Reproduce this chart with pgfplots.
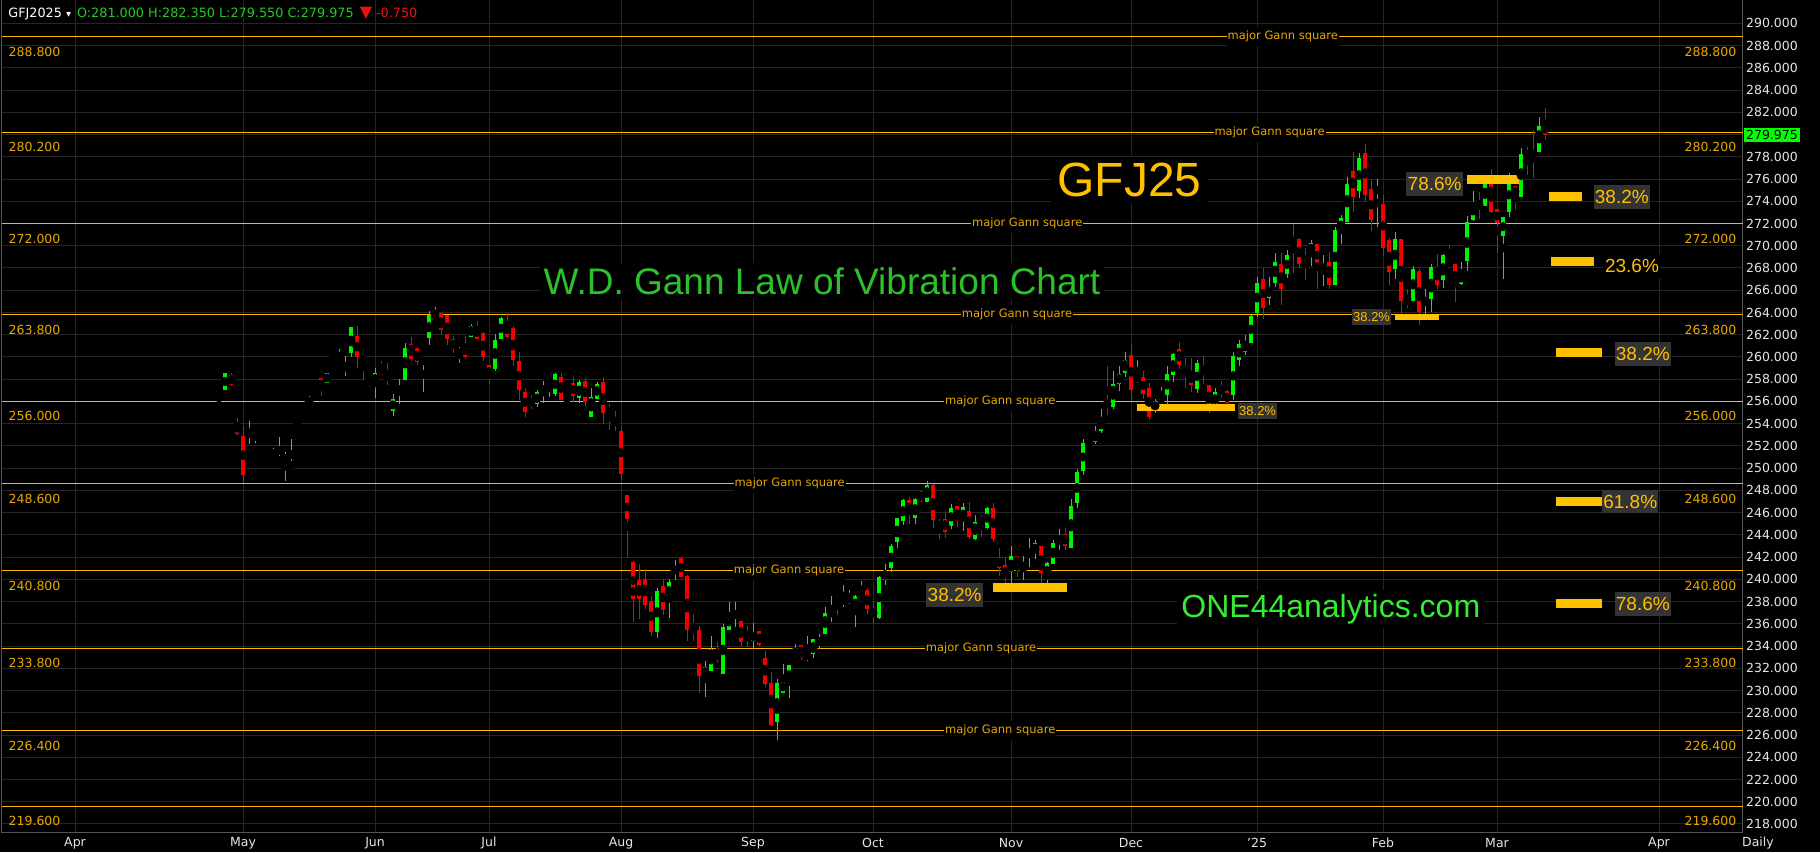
\documentclass[border=0pt]{standalone}
\usepackage{pgfplots}
\pgfplotsset{compat=1.18}
\usepackage{pgfplotstable}
\usepackage{fontspec}
\setmainfont{DejaVu Sans}
\newfontfamily\arial{Liberation Sans}
\newcommand{\fs}[1]{\fontsize{#1}{#1}\selectfont}
\pgfkeys{/pgf/number format/assume math mode=true}

\definecolor{gridgray}{HTML}{262626}
\definecolor{framegray}{HTML}{555555}
\definecolor{gannline}{HTML}{FFBA00}
\definecolor{ganntext}{HTML}{E8A800}
\definecolor{gold}{HTML}{FFC000}
\definecolor{boxgray}{HTML}{333333}
\definecolor{candleup}{HTML}{00F500}
\definecolor{candledn}{HTML}{F50000}
\definecolor{titlegreen}{HTML}{2CC02C}
\definecolor{sitegreen}{HTML}{33EE33}
\definecolor{ticktext}{HTML}{E6E6E6}
\definecolor{hdrgreen}{HTML}{22CC22}
\definecolor{hdrred}{HTML}{EE1111}
\definecolor{pricebox}{HTML}{00FF00}

\tikzset{
  gannval/.style={font=\fs{6.25}, text=ganntext, inner sep=0pt},
  gannlbl/.style={font=\fs{5.75}, text=ganntext, fill=black, inner xsep=0.5pt, inner ysep=2pt},
  pct/.style={font=\arial\fs{9.5}, text=gold, fill=boxgray, inner xsep=0.6pt, inner ysep=2.6pt},
  pctblk/.style={font=\arial\fs{9.5}, text=gold, fill=black, inner xsep=0.6pt, inner ysep=2.6pt},
  pcts/.style={font=\arial\fs{6.5}, text=gold, fill=boxgray, inner xsep=0.4pt, inner ysep=1.8pt},
}
\pgfplotsset{
  fibbar/.style={draw=gold, line width=4.5pt, forget plot},
  fibbarthin/.style={draw=gold, line width=3.3pt, forget plot},
}

% daily bars of GFJ25, one row per trading session (k = bar index)
\pgfplotstableread{
k o h l c
0 255.65 255.65 255.65 255.65
1 257.03 258.56 257.03 258.56
5 252.98 254.24 252.17 253.16
6 252.89 253.43 252.26 253.25
7 251.60 251.60 251.60 251.60
8 253.22 253.73 253.22 253.22
9 250.82 251.81 250.82 251.36
10 250.70 252.80 250.40 250.70
11 250.88 251.45 248.87 250.88
12 250.10 252.62 249.83 250.40
15 255.50 256.49 255.50 256.04
18 257.66 258.56 257.66 258.56
19 260.00 260.53 260.00 260.35
20 259.55 260.71 259.46 259.55
21 258.83 260.08 258.29 259.19
22 260.35 262.69 260.00 262.69
26 257.57 259.00 256.31 258.56
29 255.14 256.67 254.69 256.22
30 256.76 258.02 255.77 257.39
31 257.93 261.25 257.93 260.80
34 259.37 260.00 256.85 259.91
35 261.70 264.13 261.07 263.77
36 263.32 264.49 263.23 263.77
40 260.17 260.89 259.46 260.62
42 261.79 262.96 261.79 262.78
46 258.92 262.06 258.74 261.52
47 261.61 263.59 261.61 263.50
53 255.77 257.03 255.50 256.85
54 256.76 257.84 255.86 257.39
55 257.75 258.02 256.40 258.02
56 256.67 258.56 256.49 258.47
60 256.31 257.93 255.86 257.75
62 254.60 257.21 254.60 256.40
63 256.22 257.75 256.22 257.57
73 235.26 239.22 234.72 238.95
75 238.23 240.03 236.52 239.76
76 240.48 241.74 239.94 241.20
81 231.30 232.65 229.42 232.11
82 231.75 234.90 231.75 233.73
84 231.48 235.98 231.48 235.71
85 235.44 237.96 235.44 236.88
86 236.61 237.96 235.71 237.06
89 234.45 236.07 233.73 235.26
93 227.17 231.03 225.55 230.67
94 229.78 232.38 229.78 230.85
95 230.58 232.29 229.33 232.29
96 232.74 234.18 232.74 233.46
98 233.01 234.90 232.65 233.28
99 233.28 234.63 232.92 234.63
100 234.09 235.08 233.73 234.72
101 235.08 237.51 235.08 236.97
102 236.79 238.50 236.16 237.15
104 237.96 239.49 237.51 238.23
105 238.14 239.04 237.78 238.32
106 237.24 238.59 235.71 238.50
107 238.32 239.85 238.32 238.50
110 236.52 240.30 236.40 240.24
111 239.94 241.38 239.49 240.75
112 241.02 243.18 240.66 243.00
113 243.36 245.51 242.82 245.51
114 245.25 247.22 244.88 247.13
116 245.51 247.31 244.97 247.22
117 247.40 247.94 246.95 247.58
118 246.95 248.84 246.95 248.48
122 244.79 246.77 244.52 246.41
124 245.24 246.86 244.34 246.50
126 243.63 245.78 243.50 245.15
128 244.61 246.50 244.52 246.41
132 240.66 242.99 239.16 242.10
134 241.02 242.10 239.94 241.38
135 242.01 243.72 241.11 242.55
136 242.37 243.54 241.83 243.27
138 240.12 241.56 239.16 241.47
139 241.38 243.54 241.38 243.27
140 243.18 244.52 242.64 243.81
142 242.82 247.22 242.82 246.59
143 246.86 249.92 246.41 249.65
144 249.74 252.62 249.38 252.26
145 252.17 252.80 252.17 252.44
146 252.35 253.79 252.17 253.25
147 253.34 255.32 253.16 254.42
149 255.52 258.73 255.30 257.56
150 257.56 259.18 256.93 258.46
151 258.55 260.44 258.20 259.72
153 258.04 259.72 257.70 258.19
156 255.55 256.21 255.00 255.67
157 256.12 257.29 255.90 256.30
158 256.57 259.18 255.76 258.46
159 258.37 260.35 257.74 260.26
163 257.11 259.72 256.75 259.45
166 255.49 257.20 255.30 256.84
169 256.57 260.44 256.12 260.08
170 259.72 261.52 259.18 261.16
171 260.44 261.97 260.20 261.34
172 261.25 263.76 261.25 263.67
173 263.94 267.18 263.60 266.64
175 265.29 267.18 264.66 266.28
176 266.64 269.34 266.30 268.53
178 267.45 269.61 267.09 269.16
182 269.34 270.51 268.17 270.24
184 267.90 269.16 266.40 268.17
186 266.46 271.68 266.46 271.41
187 271.23 272.76 270.15 272.49
188 272.13 276.18 272.13 275.55
190 274.92 278.33 274.29 277.88
193 274.83 276.00 271.68 275.19
196 267.90 271.23 267.00 270.60
199 265.02 268.17 265.02 267.90
201 264.76 266.10 263.86 265.29
202 265.20 268.35 264.04 268.08
204 266.91 269.25 266.19 269.16
207 266.55 268.53 266.46 267.63
208 268.62 272.67 267.72 272.13
209 272.31 274.92 272.22 273.93
211 273.57 276.09 273.57 275.64
214 270.87 272.58 267.00 272.58
215 273.03 276.54 272.58 276.18
217 274.38 278.78 274.38 278.24
220 278.42 281.57 278.42 280.76
}\upbars

\pgfplotstableread{
k o h l c
2 258.38 258.56 257.39 257.48
3 254.06 254.51 252.98 253.10
4 252.89 253.82 248.63 249.38
13 254.24 254.42 254.06 254.06
14 254.87 254.96 254.15 254.42
16 257.39 257.75 257.03 257.03
17 258.10 258.10 256.49 257.03
23 261.88 262.78 259.00 260.00
24 260.00 260.26 257.93 259.55
25 258.20 258.20 257.30 257.93
27 259.19 259.63 258.38 258.38
28 258.56 259.46 257.48 257.84
32 261.16 261.79 259.64 259.82
33 260.80 260.80 259.28 259.55
37 263.95 263.95 261.97 262.42
38 263.77 263.77 261.07 261.61
39 261.61 261.88 260.35 260.71
41 261.16 261.88 259.82 260.00
43 262.78 263.23 261.61 261.61
44 262.15 262.24 259.64 260.00
45 259.28 259.28 257.57 258.10
48 263.14 263.95 261.70 261.79
49 262.60 262.78 259.19 259.73
50 259.64 260.44 256.13 257.03
51 256.85 257.21 254.60 255.05
52 256.22 256.58 255.32 255.68
57 258.20 258.56 256.13 256.13
58 255.86 255.86 255.14 255.59
59 257.66 258.20 255.95 256.49
61 257.84 258.10 255.50 255.95
64 257.75 258.20 253.97 254.96
65 255.32 255.77 253.43 254.96
66 254.33 255.14 253.34 253.97
67 253.34 253.79 248.93 249.47
68 247.58 247.58 241.92 245.43
69 241.56 241.65 236.16 238.23
70 239.94 241.38 236.43 238.23
71 240.03 240.93 237.33 237.69
72 238.05 238.50 234.90 235.26
74 239.40 240.03 236.79 237.24
77 241.92 241.92 240.21 240.21
78 240.30 240.39 234.45 235.44
79 235.62 236.88 234.45 235.26
80 235.44 235.80 229.77 231.30
83 233.55 234.36 232.47 232.74
87 236.25 236.25 234.00 234.36
88 235.08 235.80 233.91 234.81
90 235.35 235.35 234.00 234.09
91 232.92 233.55 230.31 230.58
92 230.67 231.66 226.81 226.90
97 234.09 234.09 232.74 233.01
103 238.23 238.50 236.79 237.87
108 239.04 239.22 236.88 237.33
109 237.33 238.05 235.98 236.61
115 247.13 247.40 244.97 245.87
119 248.48 248.60 244.61 245.33
120 244.97 245.42 243.63 244.70
121 245.42 246.14 243.72 244.25
123 246.59 246.59 244.70 245.24
125 246.14 246.95 243.60 243.81
127 245.51 245.78 243.81 244.97
129 246.41 246.86 243.36 243.63
130 242.01 242.82 240.30 241.02
131 241.29 242.01 238.95 240.12
133 242.10 242.10 240.21 241.20
137 242.99 242.99 239.40 240.57
141 244.07 244.61 242.64 242.99
148 256.07 259.18 254.78 255.50
152 260.17 261.25 256.15 257.05
154 258.19 258.73 256.24 256.69
155 257.20 257.65 254.35 254.62
160 260.71 261.33 258.91 259.27
161 259.09 259.90 257.20 258.55
162 258.64 259.90 256.84 257.47
164 259.09 260.08 257.56 258.37
165 257.47 257.47 254.98 255.49
167 257.29 257.83 256.30 256.75
168 256.93 257.00 255.70 255.85
174 267.00 267.99 263.43 264.39
177 268.35 269.34 264.66 266.10
179 270.69 271.95 267.54 270.15
180 270.60 270.70 267.99 268.35
181 268.98 269.79 266.91 268.53
183 270.15 270.15 266.10 268.17
185 268.53 269.43 266.10 266.46
189 276.72 278.42 273.03 274.38
191 278.33 279.14 274.02 274.56
192 275.10 276.00 271.32 272.31
194 273.75 274.56 269.07 269.79
195 270.51 270.69 266.46 267.63
197 270.60 270.60 263.68 265.02
198 265.20 266.10 264.40 264.85
200 267.72 267.99 262.87 264.04
203 268.08 269.25 266.10 266.46
205 269.07 270.06 268.62 268.62
206 268.35 268.35 264.94 266.37
210 273.93 274.83 272.40 273.48
212 275.64 276.90 272.94 273.03
213 273.30 273.30 269.34 272.04
216 275.37 275.37 273.21 274.38
218 278.60 278.87 276.36 277.88
219 278.06 280.40 276.09 277.70
221 281.00 282.35 279.55 279.975
}\downbars

\begin{document}
\begin{tikzpicture}
\fill[black] (0pt,0pt) rectangle (910pt,426pt);
\begin{axis}[
  at={(1pt,10pt)}, anchor=south west,
  width=870.35pt, height=416pt, scale only axis,
  xmin=-36.17, xmax=253.95, ymin=217.28, ymax=292.1,
  clip=false,
  axis line style={draw=framegray, line width=0.5pt},
  /pgf/number format/assume math mode=true,
  xtick={-24,4,26,45,67,89,109,132,152,173,194,213,240},
  xticklabels={Apr,May,Jun,Jul,Aug,Sep,Oct,Nov,Dec,{'25},Feb,Mar,Apr},
  ytick={218,220,...,290},
  yticklabel pos=right,
  scaled y ticks=false,
  grid=major,
  major grid style={draw=gridgray, line width=0.5pt},
  tick style={draw=none},
  xticklabel style={anchor=center, yshift=-5.5pt, inner sep=0pt, font=\fs{6.25}, text=ticktext},
  yticklabel style={anchor=west, xshift=1.5pt, inner sep=0pt, font=\fs{6.25}, text=ticktext,
    /pgf/number format/fixed, /pgf/number format/fixed zerofill, /pgf/number format/precision=3},
]

% major Gann square levels with their price tags at both ends
\pgfplotsinvokeforeach{288.8,280.2,272,263.8,256,248.6,240.8,233.8,226.4,219.6}{
  \addplot[draw=gannline, line width=0.5pt, forget plot] coordinates {(-36.17,#1) (253.95,#1)};
  \node[gannval, anchor=west, xshift=3.15pt, yshift=-7.5pt] at (axis cs:-36.17,#1)
    {\pgfmathprintnumber[fixed,fixed zerofill,precision=3]{#1}};
  \node[gannval, anchor=east, xshift=-3pt, yshift=-7.5pt] at (axis cs:253.95,#1)
    {\pgfmathprintnumber[fixed,fixed zerofill,precision=3]{#1}};
}
\node[gannlbl] at (axis cs:177.3,288.8) {major Gann square};
\node[gannlbl] at (axis cs:175.1,280.2) {major Gann square};
\node[gannlbl] at (axis cs:134.7,272) {major Gann square};
\node[gannlbl] at (axis cs:133,263.8) {major Gann square};
\node[gannlbl] at (axis cs:130.2,256) {major Gann square};
\node[gannlbl] at (axis cs:95.1,248.6) {major Gann square};
\node[gannlbl] at (axis cs:95,240.8) {major Gann square};
\node[gannlbl] at (axis cs:127,233.8) {major Gann square};
\node[gannlbl] at (axis cs:130.2,226.4) {major Gann square};

% titles
\node[font=\arial\fs{18.5}, text=titlegreen, fill=black, inner sep=2pt] at (axis cs:100.5,266.83) {W.D. Gann Law of Vibration Chart};
\node[font=\arial\fs{24}, text=gold, fill=black, inner sep=3pt] at (axis cs:151.75,275.9) {GFJ25};
\node[font=\arial\fs{16}, text=sitegreen, fill=black, inner sep=2pt] at (axis cs:185.3,237.3) {ONE44analytics.com};

% candle wicks
\addplot[only marks, mark=none, forget plot,
  error bars/.cd, y dir=both, y explicit, error mark=none,
  error bar style={draw=candleup, line width=0.5pt}]
  table[x=k, y expr={(\thisrow{h}+\thisrow{l})/2}, y error expr={(\thisrow{h}-\thisrow{l})/2}] {\upbars};
\addplot[only marks, mark=none, forget plot,
  error bars/.cd, y dir=both, y explicit, error mark=none,
  error bar style={draw=candledn, line width=0.5pt}]
  table[x=k, y expr={(\thisrow{h}+\thisrow{l})/2}, y error expr={(\thisrow{h}-\thisrow{l})/2}] {\downbars};
% candle bodies
\addplot[only marks, mark=none, forget plot,
  error bars/.cd, y dir=both, y explicit, error mark=none,
  error bar style={draw=candleup, line width=2pt}]
  table[x=k, y expr={(\thisrow{o}+\thisrow{c})/2}, y error expr={max(abs(\thisrow{c}-\thisrow{o})/2,0.05)}] {\upbars};
\addplot[only marks, mark=none, forget plot,
  error bars/.cd, y dir=both, y explicit, error mark=none,
  error bar style={draw=candledn, line width=2pt}]
  table[x=k, y expr={(\thisrow{o}+\thisrow{c})/2}, y error expr={max(abs(\thisrow{c}-\thisrow{o})/2,0.05)}] {\downbars};

% Fibonacci retracement markers
\addplot[fibbar] coordinates {(208,276.0) (216.67,276.0)};
\addplot[fibbarthin] coordinates {(196,263.6) (203.3,263.6)};
\addplot[fibbarthin] coordinates {(153,255.45) (169.3,255.45)};
\addplot[fibbar] coordinates {(129,239.3) (141.3,239.3)};
\addplot[fibbar] coordinates {(221.7,274.4) (227.2,274.4)};
\addplot[fibbar] coordinates {(222,268.6) (229.2,268.6)};
\addplot[fibbar] coordinates {(222.8,260.4) (230.5,260.4)};
\addplot[fibbar] coordinates {(222.8,247.0) (230.8,247.0)};
\addplot[fibbar] coordinates {(222.8,237.8) (230.5,237.8)};

\node[pct] at (axis cs:202.6,275.55) {78.6\%};
\node[pcts] at (axis cs:192.1,263.6) {38.2\%};
\node[pcts] at (axis cs:173.1,255.13) {38.2\%};
\node[pct] at (axis cs:122.6,238.6) {38.2\%};
\node[pct] at (axis cs:233.8,274.4) {38.2\%};
\node[pctblk] at (axis cs:235.5,268.2) {23.6\%};
\node[pct] at (axis cs:237.3,260.3) {38.2\%};
\node[pct] at (axis cs:235.2,247.0) {61.8\%};
\node[pct] at (axis cs:237.3,237.8) {78.6\%};

% last price tag
\node[anchor=west, fill=pricebox, text=black, font=\fs{6.25}, inner xsep=1pt, inner ysep=1.2pt, xshift=0.5pt]
  at (axis cs:253.95,279.975) {279.975};
\end{axis}

% header line
\node[anchor=west, inner sep=0pt, font=\fs{6.4}] at (4pt,419pt)
  {\textcolor{white}{GFJ2025}\hspace{2pt}\textcolor{white}{\fs{5}▾}\hspace{3pt}\textcolor{hdrgreen}{O:281.000 H:282.350 L:279.550 C:279.975}\hspace{3pt}\textcolor{hdrred}{\fs{8}▼}\hspace{2pt}\textcolor{hdrred}{-0.750}};
\node[font=\fs{6.25}, text=ticktext, inner sep=0pt] at (879pt,4.5pt) {Daily};

\pgfresetboundingbox
\useasboundingbox (0pt,0pt) rectangle (910pt,426pt);
\end{tikzpicture}
\end{document}
